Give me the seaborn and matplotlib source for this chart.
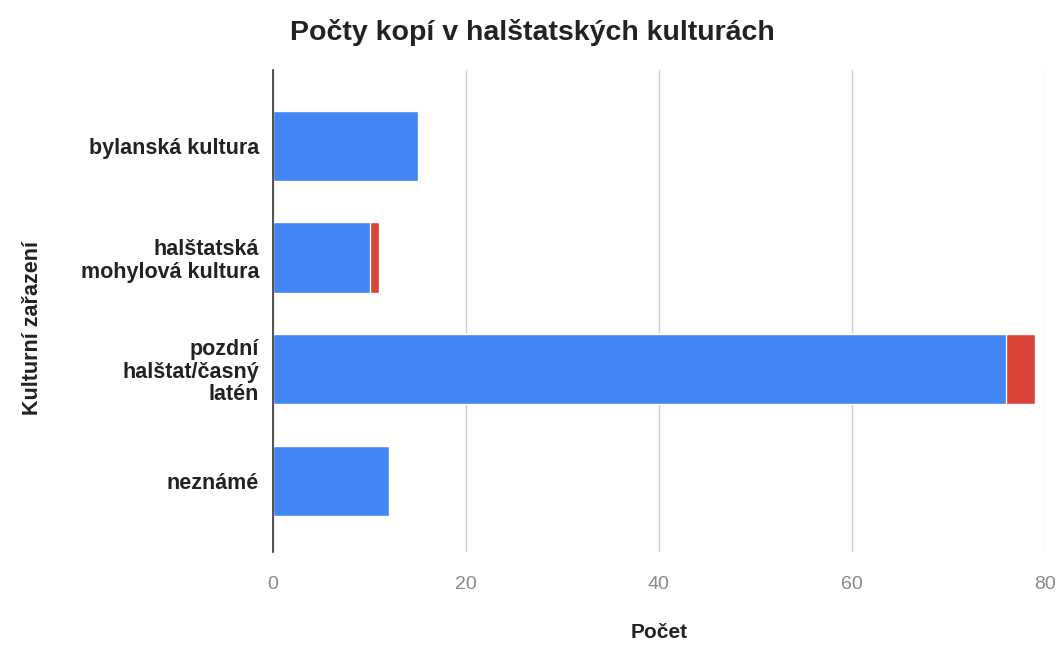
import matplotlib
matplotlib.use("Agg")
import matplotlib.pyplot as plt
import seaborn as sns
import pandas as pd

categories = ["bylanská kultura", "halštatská\nmohylová kultura", "pozdní\nhalštat/časný\nlatén", "neznámé"]
blue_values = [15, 10, 76, 12]
red_values = [0, 1, 3, 0]
x_ticks = [0, 20, 40, 60, 80]

sns.set_theme(style="white")
plt.rcParams['font.family'] = ['Liberation Sans', 'DejaVu Sans']

df = pd.DataFrame({"cat": categories, "blue": blue_values,
                   "total": [b + r for b, r in zip(blue_values, red_values)]})

fig = plt.figure(figsize=(10.64, 6.48), dpi=100)
ax = fig.add_axes([0.2566, 0.148, 0.7254, 0.744])

sns.barplot(data=df, y="cat", x="total", color="#DB4437", saturation=1, width=0.63, ax=ax, orient="h")
sns.barplot(data=df, y="cat", x="blue", color="#4285F4", saturation=1, width=0.63, ax=ax, orient="h")

ax.set_xlim(0, 80)
ax.set_ylim(3.64, -0.68)
ax.set_xticks(x_ticks)
ax.set_xticklabels([str(t) for t in x_ticks], color="#8a8a8a", fontsize=14)
ax.grid(axis="x", color="#d0d0d0", linewidth=1)
ax.set_axisbelow(True)
for s in ["top", "right", "bottom"]:
    ax.spines[s].set_visible(False)
ax.spines["left"].set_color("#333333")
ax.spines["left"].set_linewidth(1.2)
ax.tick_params(axis="x", length=0, pad=17)
ax.tick_params(axis="y", length=0, pad=10)
for lbl in ax.get_yticklabels():
    lbl.set_fontweight("bold")
    lbl.set_fontsize(15.5)
    lbl.set_color("#222222")
    lbl.set_multialignment("right")
    lbl.set_linespacing(1.1)

ax.set_xlabel("Počet", fontsize=15, fontweight="bold", color="#222222", labelpad=22)
ax.set_ylabel("Kulturní zařazení", fontsize=15.5, fontweight="bold", color="#222222")
ax.yaxis.set_label_coords(-0.298, 0.465)
fig.text(0.5, 0.95, "Počty kopí v halštatských kulturách", ha="center", va="center",
         fontsize=20.5, fontweight="bold", color="#222222")

fig.savefig("out.png", dpi=100, facecolor="white")
